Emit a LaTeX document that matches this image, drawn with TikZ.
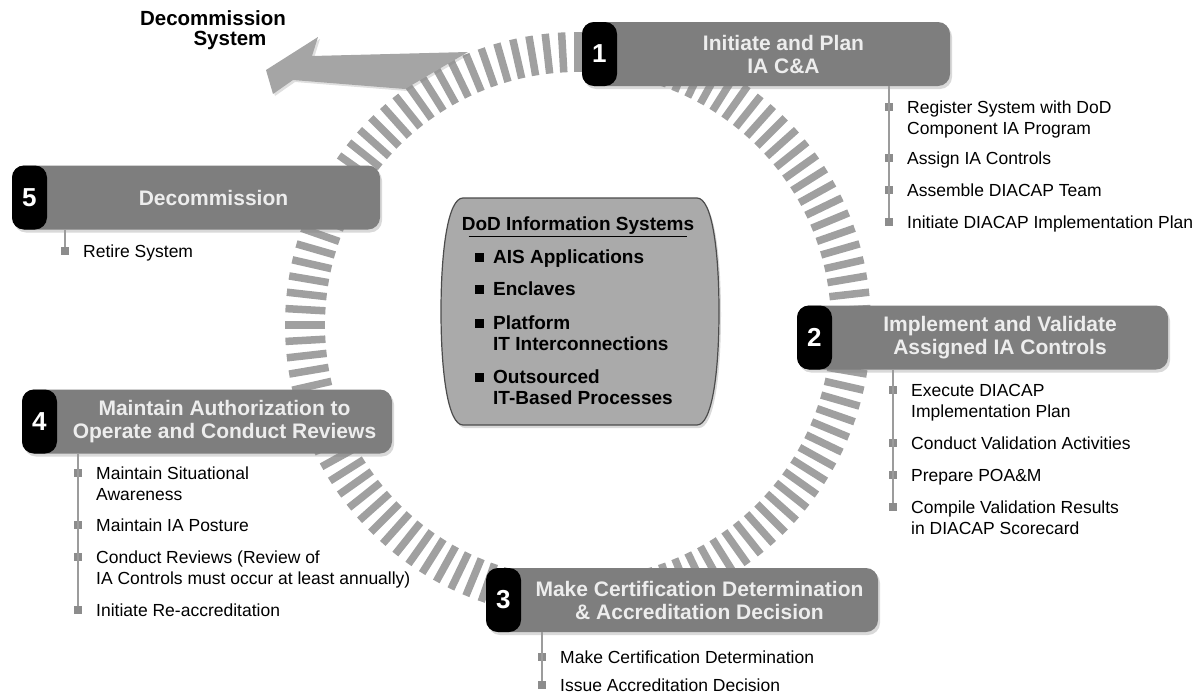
\documentclass[tikz,border=0pt]{standalone}
\usepackage{fontspec}
\setmainfont{Liberation Sans}
\usetikzlibrary{shadows,calc}

\definecolor{boxgray}{HTML}{7E7E7E}
\definecolor{titlegray}{HTML}{EDEDED}
\definecolor{ringgray}{HTML}{A0A0A0}
\definecolor{arrowgray}{HTML}{A5A5A5}
\definecolor{bulgray}{HTML}{8C8C8C}
\definecolor{linegray}{HTML}{9C9C9C}
\definecolor{centergray}{HTML}{AAAAAA}

\tikzset{
  stepbox/.style={rounded corners=12pt, fill=boxgray, minimum height=64pt, inner sep=0pt,
    drop shadow={opacity=0.3, shadow xshift=2pt, shadow yshift=-3pt},
    path picture={\fill[black] (path picture bounding box.north west) rectangle ([xshift=35pt]path picture bounding box.south west);}},
  stepnum/.style={text=white, font=\bfseries\fontsize{26}{26}\selectfont},
  steptitle/.style={text=titlegray, align=center, font=\bfseries\fontsize{21}{23}\selectfont},
  bul/.style={fill=bulgray, minimum size=8pt, inner sep=0pt},
  item/.style={anchor=base west, align=left, inner sep=0pt, font=\fontsize{17.5}{21}\selectfont},
  cbul/.style={fill=black, minimum size=9pt, inner sep=0pt},
  citem/.style={anchor=base west, align=left, inner sep=0pt, font=\bfseries\fontsize{19}{21}\selectfont},
  stemline/.style={draw=linegray, line width=1.5pt}
}

\begin{document}
\begin{tikzpicture}[x=1pt, y=-1pt]
  \useasboundingbox (0,0) rectangle (1202,696);

  % ring
  \coordinate (m) at (578,325);
  \foreach \i in {0,...,111}
    \draw[ringgray, line width=7.5pt] ($(m)+({3.2142857*\i}:253)$) -- ($(m)+({3.2142857*\i}:293)$);

  % decommission arrow
  \fill[arrowgray, drop shadow={opacity=0.25, shadow xshift=2pt, shadow yshift=-2pt}]
    (266,70) -- (318,37) -- (312,56) -- (468,52) -- (405,89) -- (293,80) -- (273,94) -- cycle;
  \node[font=\bfseries\fontsize{20.5}{20}\selectfont, align=center] (dec) at (213,30) {Decommission\\\hspace*{34pt}System};

  % center box
  \filldraw[fill=centergray, draw=black!70, line width=1.2pt, drop shadow={opacity=0.3, shadow xshift=2pt, shadow yshift=-3pt}]
    (463,198) -- (697,198) .. controls (712,198) and (719,250) .. (719,311.5)
    .. controls (719,373) and (712,425) .. (697,425) -- (463,425)
    .. controls (448,425) and (441,373) .. (441,311.5)
    .. controls (441,250) and (448,198) .. (463,198) -- cycle;
  \node[font=\bfseries\fontsize{19}{21}\selectfont, anchor=base, inner sep=0pt] (ctitle) at (578,230) {DoD Information Systems};
  \draw[line width=1.3pt] ([xshift=7pt,yshift=-6.5pt]ctitle.base west) -- ([xshift=-7pt,yshift=-6.5pt]ctitle.base east);

  \node[cbul] (c1) at (479,257) {};
  \node[citem] (ci1) at ([xshift=14pt,yshift=-6.5pt]c1) {AIS Applications};
  \node[cbul] (c2) at (479,289) {};
  \node[citem] (ci2) at ([xshift=14pt,yshift=-6.5pt]c2) {Enclaves};
  \node[cbul] (c3) at (479,323) {};
  \node[citem] (ci3) at ([xshift=14pt,yshift=-27.5pt]c3) {Platform\\IT Interconnections};
  \node[cbul] (c4) at (479,377) {};
  \node[citem] (ci4) at ([xshift=14pt,yshift=-27.5pt]c4) {Outsourced\\IT-Based Processes};

  % step 1
  \node[stepbox, minimum width=368pt] (s1) at (766,54) {};
  \node[stepnum] (n1) at ([xshift=17.5pt]s1.west) {1};
  \node[steptitle] (t1) at ([xshift=17.5pt]s1.center) {Initiate and Plan\\IA C\&A};
  \node[bul] (b11) at (889,107) {};
  \node[bul] (b12) at (889,158) {};
  \node[bul] (b13) at (889,190) {};
  \node[bul] (b14) at (889,222) {};
  \draw[stemline] (s1.south -| b11) -- (b14);
  \node[item] (i11) at ([xshift=18pt,yshift=-27.5pt]b11) {Register System with DoD\\Component IA Program};
  \node[item] (i12) at ([xshift=18pt,yshift=-6.5pt]b12) {Assign IA Controls};
  \node[item] (i13) at ([xshift=18pt,yshift=-6.5pt]b13) {Assemble DIACAP Team};
  \node[item] (i14) at ([xshift=18pt,yshift=-6.5pt]b14) {Initiate DIACAP Implementation Plan};

  % step 5
  \node[stepbox, minimum width=368pt] (s5) at (196,197.5) {};
  \node[stepnum] (n5) at ([xshift=17.5pt]s5.west) {5};
  \node[steptitle] (t5) at ([xshift=17.5pt]s5.center) {Decommission};
  \node[bul] (b51) at (65,251) {};
  \draw[stemline] (s5.south -| b51) -- (b51);
  \node[item] (i51) at ([xshift=18pt,yshift=-6.5pt]b51) {Retire System};

  % step 2
  \node[stepbox, minimum width=371pt] (s2) at (982.5,337.5) {};
  \node[stepnum] (n2) at ([xshift=17.5pt]s2.west) {2};
  \node[steptitle] (t2) at ([xshift=17.5pt]s2.center) {Implement and Validate\\Assigned IA Controls};
  \node[bul] (b21) at (893,390) {};
  \node[bul] (b22) at (893,443) {};
  \node[bul] (b23) at (893,475) {};
  \node[bul] (b24) at (893,507) {};
  \draw[stemline] (s2.south -| b21) -- (b24);
  \node[item] (i21) at ([xshift=18pt,yshift=-27.5pt]b21) {Execute DIACAP\\Implementation Plan};
  \node[item] (i22) at ([xshift=18pt,yshift=-6.5pt]b22) {Conduct Validation Activities};
  \node[item] (i23) at ([xshift=18pt,yshift=-6.5pt]b23) {Prepare POA\&M};
  \node[item] (i24) at ([xshift=18pt,yshift=-27.5pt]b24) {Compile Validation Results\\in DIACAP Scorecard};

  % step 4
  \node[stepbox, minimum width=370pt] (s4) at (207,421.5) {};
  \node[stepnum] (n4) at ([xshift=17.5pt]s4.west) {4};
  \node[steptitle] (t4) at ([xshift=17.5pt]s4.center) {Maintain Authorization to\\Operate and Conduct Reviews};
  \node[bul] (b41) at (78,473) {};
  \node[bul] (b42) at (78,525) {};
  \node[bul] (b43) at (78,557) {};
  \node[bul] (b44) at (78,610) {};
  \draw[stemline] (s4.south -| b41) -- (b44);
  \node[item] (i41) at ([xshift=18pt,yshift=-27.5pt]b41) {Maintain Situational\\Awareness};
  \node[item] (i42) at ([xshift=18pt,yshift=-6.5pt]b42) {Maintain IA Posture};
  \node[item] (i43) at ([xshift=18pt,yshift=-27.5pt]b43) {Conduct Reviews (Review of\\IA Controls must occur at least annually)};
  \node[item] (i44) at ([xshift=18pt,yshift=-6.5pt]b44) {Initiate Re-accreditation};

  % step 3
  \node[stepbox, minimum width=392pt] (s3) at (682,600) {};
  \node[stepnum] (n3) at ([xshift=17.5pt]s3.west) {3};
  \node[steptitle] (t3) at ([xshift=17.5pt]s3.center) {Make Certification Determination\\\& Accreditation Decision};
  \node[bul] (b31) at (542,657) {};
  \node[bul] (b32) at (542,685) {};
  \draw[stemline] (s3.south -| b31) -- (b32);
  \node[item] (i31) at ([xshift=18pt,yshift=-6.5pt]b31) {Make Certification Determination};
  \node[item] (i32) at ([xshift=18pt,yshift=-6.5pt]b32) {Issue Accreditation Decision};

\end{tikzpicture}
\end{document}
